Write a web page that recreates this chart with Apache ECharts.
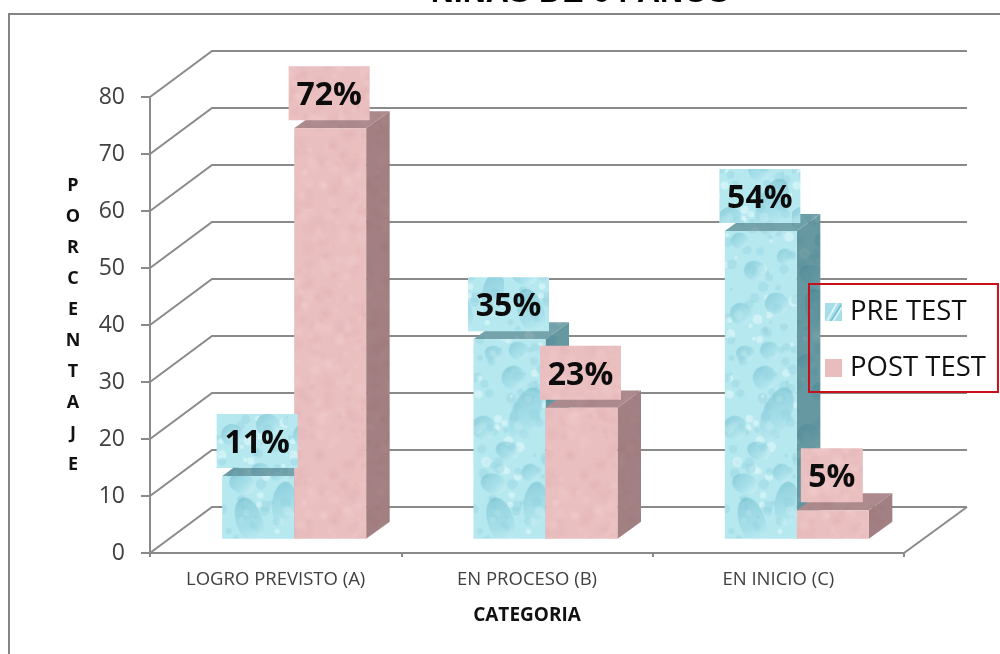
<!DOCTYPE html>
<html><head><meta charset="utf-8">
<style>html,body{margin:0;padding:0;background:#fff}#c{width:1000px;height:654px}</style>
<script src="https://cdn.jsdelivr.net/npm/echarts@6/dist/echarts.min.js"></script>
</head><body><div id="c"></div>
<script>
const titleText = 'NIÑAS DE 04 AÑOS';
const categories = ['LOGRO PREVISTO (A)', 'EN PROCESO (B)', 'EN INICIO (C)'];
const preTest = [11, 35, 54];
const postTest = [72, 23, 5];
const yTicks = [0, 10, 20, 30, 40, 50, 60, 70, 80];
const xAxisName = 'CATEGORIA';
const yAxisName = 'P\nO\nR\nC\nE\nN\nT\nA\nJ\nE';
const seriesNames = ['PRE TEST', 'POST TEST'];

// decorative textures: tile is anchored at the bar's bottom-left corner
const TILE_W=72, TILE_H=330;
const bigDrops = [[27,18,13,24,-0.3],[62,35,12,22,0.1],[52,125,14,28,0.4],[20,55,13,10,0.3],[57,66,9,9,0.3],[34,88,12,9,0.3],[10,111,12,12,0.3],[40,161,12,12,0.4],[20,185,9,8,0.3],[45,188,10,9,0.3],[16,225,11,11,0.3],[52,235,12,11,0.3],[30,268,11,10,0.3],[60,282,8,8,0.3],[15,298,9,8,0.3],[44,312,10,9,0.3]];
function mk(w,h){const c=document.createElement('canvas');c.width=w;c.height=h;return c;}
const hash=(i,k)=>{const s=Math.sin(i*12.9898+k*78.233)*43758.5453;return s-Math.floor(s);};
function blueTex(){
  const c=mk(TILE_W,TILE_H),g=c.getContext('2d');
  g.fillStyle='#b6e8f0';g.fillRect(0,0,TILE_W,TILE_H);
  for(let i=0;i<150;i++){
    const x=hash(i,1)*TILE_W,y=hash(i,2)*TILE_H,r=1.5+hash(i,3)*4;
    g.fillStyle=i%3?'rgba(150,212,224,0.45)':'rgba(222,248,250,0.6)';
    g.beginPath();g.arc(x,y,r,0,Math.PI*2);g.fill();
  }
  bigDrops.forEach(d=>{
    const px=d[0],py=TILE_H-d[1],rx=d[2],ry=d[3];
    const gr=g.createLinearGradient(px-rx,py-ry,px+rx*0.6,py+ry);
    gr.addColorStop(0,'rgba(105,185,202,0.6)');
    gr.addColorStop(0.65,'rgba(150,214,226,0.45)');
    gr.addColorStop(1,'rgba(215,246,249,0.5)');
    g.fillStyle=gr;g.beginPath();g.ellipse(px,py,rx,ry,d[4],0,Math.PI*2);g.fill();
  });
  return c;
}
function pinkTex(){
  const c=mk(TILE_W,TILE_H),g=c.getContext('2d');
  g.fillStyle='#eabfc0';g.fillRect(0,0,TILE_W,TILE_H);
  for(let i=0;i<240;i++){
    const x=hash(i,4)*TILE_W,y=hash(i,5)*TILE_H,r=2+hash(i,6)*7;
    const col=i%2?'243,208,208':'224,174,178';
    const gr=g.createRadialGradient(x,y,0,x,y,r);
    gr.addColorStop(0,'rgba('+col+',0.38)');gr.addColorStop(1,'rgba('+col+',0)');
    g.fillStyle=gr;g.beginPath();g.arc(x,y,r,0,Math.PI*2);g.fill();
  }
  return c;
}
function shade(src,col){
  const c=mk(src.width,src.height),g=c.getContext('2d');
  g.drawImage(src,0,0);g.fillStyle=col;g.fillRect(0,0,c.width,c.height);return c;
}
function stripes(){
  const c=mk(17,18),g=c.getContext('2d');
  g.fillStyle='#a5dde8';g.fillRect(0,0,17,18);
  g.strokeStyle='#d8f4f7';g.lineWidth=2;
  [[2,18,12,0],[8,18,17,4]].forEach(s=>{g.beginPath();g.moveTo(s[0],s[1]);g.lineTo(s[2],s[3]);g.stroke();});
  g.strokeStyle='#74c0d0';g.lineWidth=1.5;
  g.beginPath();g.moveTo(6,18);g.lineTo(16,2);g.stroke();
  return c;
}
const pat = c => ({image:c, repeat:'repeat'});
const blue = blueTex(), pink = pinkTex();
const tex = [
  {front:pat(blue), side:pat(shade(blue,'rgba(45,95,105,0.58)')), top:pat(shade(blue,'rgba(55,100,110,0.52)'))},
  {front:pat(pink), side:pat(shade(pink,'rgba(70,45,50,0.44)')), top:pat(shade(pink,'rgba(70,50,55,0.38)'))}
];

// 3D projection of the chart box
const DX=63, DY=46, FRONT=0.31, BACK=0.68, BAR_W=72, FRONT_DX=18.5;

function bar3d(sIdx){
  return function(params,api){
    const pt=api.coord([api.value(0),api.value(1)]);
    const base=api.coord([api.value(0),0]);
    const oy=DY*FRONT;
    const dep=[23.5,DY*(BACK-FRONT)];
    const l=pt[0]+FRONT_DX+(sIdx===0?-BAR_W:0), r=l+BAR_W, t=pt[1]-oy, b=base[1]-oy, h=b-t;
    const T=tex[sIdx];
    return {type:'group',children:[
      {type:'polygon',shape:{points:[[r,t],[r+dep[0],t-dep[1]],[r+dep[0],b-dep[1]],[r,b]]},style:{fill:T.side}},
      {type:'polygon',shape:{points:[[l,t],[l+dep[0],t-dep[1]],[r+dep[0],t-dep[1]],[r,t]]},style:{fill:T.top}},
      {type:'group',x:l,y:b-TILE_H,children:[
        {type:'rect',shape:{x:0,y:TILE_H-h,width:BAR_W,height:h},style:{fill:T.front}}
      ]}
    ]};
  };
}
function labelItem(sIdx){
  return function(params,api){
    const v=api.value(1), pt=api.coord([api.value(0),v]);
    const s=v+'%', w=s.length>2?81:62, h=54;
    const cx=pt[0]+FRONT_DX+(sIdx===0?-BAR_W/2:BAR_W/2)-1;
    const cy=pt[1]-DY*FRONT-35;
    return {type:'group',children:[
      {type:'rect',shape:{x:cx-w/2,y:cy-h/2,width:w,height:h},style:{fill:tex[sIdx].front}},
      {type:'text',style:{x:cx,y:cy+3,text:s,align:'center',verticalAlign:'middle',fill:'#0c0c0c',font:'bold 32px "Open Sans"'}}
    ]};
  };
}
function wall(params,api){
  const v=api.value(0), y=api.coord([0,v])[1], cs=params.coordSys;
  const x0=cs.x, xR=cs.x+cs.width, ls={stroke:'#8a8a8a',lineWidth:2,fill:null};
  const ch=[{type:'polyline',shape:{points:[[x0,y],[x0+DX-1,y-DY],[xR+DX,y-DY]]},style:ls}];
  if(v===0) ch.push({type:'line',shape:{x1:xR,y1:y,x2:xR+DX,y2:y-DY},style:ls});
  return {type:'group',children:ch};
}
const rows = a => a.map((v,i)=>[i,v]);
const axisLine = {lineStyle:{color:'#8a8a8a',width:2}};

const chart = echarts.init(document.getElementById('c'),null,{renderer:'canvas'});
chart.setOption({
  animation:false,
  backgroundColor:'#fff',
  title:{text:titleText,left:580,textAlign:'center',top:-23,padding:0,
    textStyle:{fontFamily:'Liberation Sans',fontWeight:'bold',fontSize:32,color:'#000'}},
  graphic:[{type:'polyline',shape:{points:[[9,654],[9,14],[1000,14]]},style:{stroke:'#858585',lineWidth:2,fill:null},z:-1}],
  grid:{left:150,top:97,width:754,height:456,containLabel:false},
  legend:{left:809,top:284,orient:'vertical',padding:[13,12,9,16],itemWidth:17,itemHeight:18,itemGap:26,
    borderColor:'#c8101a',borderWidth:2,borderRadius:0,backgroundColor:'transparent',z:20,
    textStyle:{fontFamily:'Open Sans',fontSize:27.5,lineHeight:30,color:'#111',padding:[0,0,0,3]},
    data:[{name:seriesNames[0],icon:'rect',itemStyle:{color:pat(stripes())}},
          {name:seriesNames[1],icon:'rect',itemStyle:{color:'#e9bcbe'}}]},
  xAxis:{type:'category',data:categories,axisLine:axisLine,
    axisTick:{show:true,length:4,lineStyle:{color:'#8a8a8a',width:2}},
    axisLabel:{fontFamily:'Open Sans',fontSize:18.5,color:'#404040',margin:17},
    name:xAxisName,nameLocation:'middle',nameGap:53,
    nameTextStyle:{fontFamily:'Open Sans',fontWeight:'bold',fontSize:19,color:'#111'}},
  yAxis:{type:'value',min:0,max:80,interval:10,
    axisLine:{show:true,lineStyle:{color:'#8a8a8a',width:2}},
    axisTick:{show:true,length:9,lineStyle:{color:'#8a8a8a',width:2}},
    splitLine:{show:false},
    axisLabel:{fontFamily:'Open Sans',fontSize:23,color:'#404040',margin:25,
      formatter:v=>yTicks.includes(v)?String(v):''},
    name:yAxisName,nameLocation:'middle',nameRotate:0,nameGap:77,
    nameTextStyle:{fontFamily:'Open Sans',fontWeight:'bold',fontSize:18,color:'#111',lineHeight:31,align:'center',verticalAlign:'middle'}},
  series:[
    {type:'custom',name:'wall',silent:true,z:1,data:yTicks.map(v=>[v]),renderItem:wall,encode:{y:0}},
    {type:'custom',name:seriesNames[0],z:2,data:rows(preTest),renderItem:bar3d(0),encode:{x:0,y:1},itemStyle:{color:'#a5dde8'}},
    {type:'custom',name:seriesNames[1],z:3,data:rows(postTest),renderItem:bar3d(1),encode:{x:0,y:1},itemStyle:{color:'#e9bcbe'}},
    {type:'custom',name:'pre-labels',silent:true,z:4,data:rows(preTest),renderItem:labelItem(0),encode:{x:0,y:1}},
    {type:'custom',name:'post-labels',silent:true,z:5,data:rows(postTest),renderItem:labelItem(1),encode:{x:0,y:1}}
  ]
});
</script></body></html>
